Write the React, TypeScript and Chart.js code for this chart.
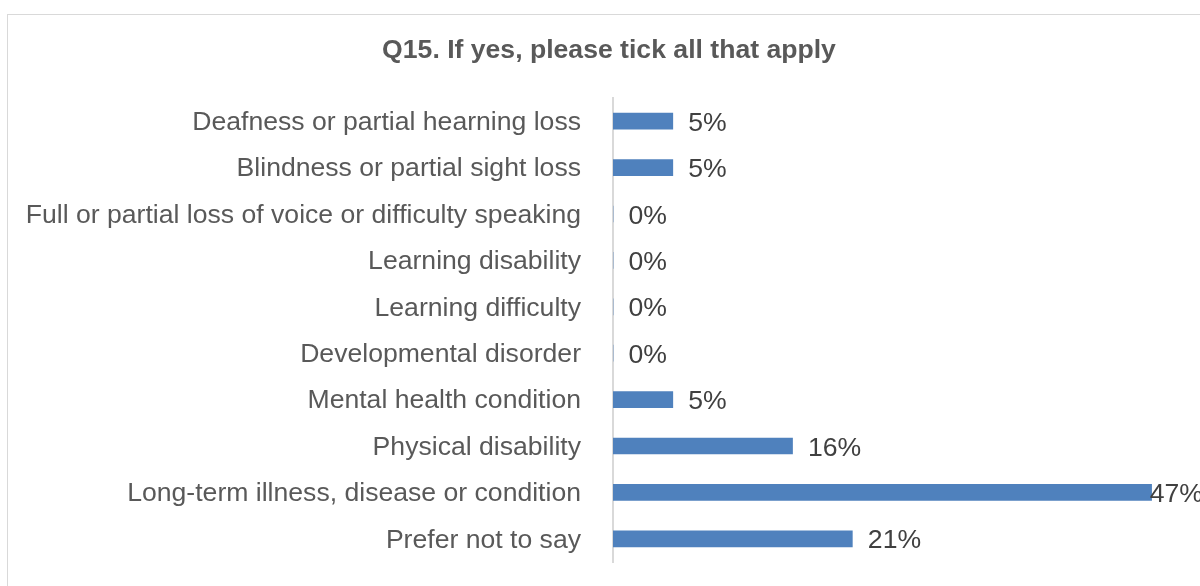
import React, { useEffect, useRef } from "react";
import { Chart, registerables } from "chart.js";

Chart.register(...registerables);

const chartTitle = "Q15. If yes, please tick all that apply";

const categories = [
  "Deafness or partial hearning loss",
  "Blindness or partial sight loss",
  "Full or partial loss of voice or difficulty speaking",
  "Learning disability",
  "Learning difficulty",
  "Developmental disorder",
  "Mental health condition",
  "Physical disability",
  "Long-term illness, disease or condition",
  "Prefer not to say",
];

const percentValues = [5.26, 5.26, 0, 0, 0, 0, 5.26, 15.79, 47.37, 21.05];

const valueLabels = ["5%", "5%", "0%", "0%", "0%", "0%", "5%", "16%", "47%", "21%"];

const axisMin = 0;
const axisMax = 50;

const FONT_FAMILY = '"Liberation Sans", Arial, sans-serif';
const FONT_SIZE = 26.6;

const decoPlugin = {
  id: "deco",
  beforeDraw(chart: any) {
    const ctx = chart.ctx;
    ctx.save();
    ctx.fillStyle = "#ffffff";
    ctx.fillRect(0, 0, chart.width, chart.height);
    ctx.strokeStyle = "#D9D9D9";
    ctx.lineWidth = 1;
    ctx.strokeRect(7.5, 14.5, 1210, 640);
    ctx.fillStyle = "#595959";
    ctx.font = `bold ${FONT_SIZE}px ${FONT_FAMILY}`;
    ctx.textAlign = "center";
    ctx.textBaseline = "alphabetic";
    ctx.fillText(chartTitle, 609, 58);
    ctx.restore();
  },
  afterDatasetsDraw(chart: any) {
    const ctx = chart.ctx;
    const meta = chart.getDatasetMeta(0);
    ctx.save();
    ctx.font = `${FONT_SIZE}px ${FONT_FAMILY}`;
    ctx.fillStyle = "#404040";
    ctx.textAlign = "left";
    ctx.textBaseline = "alphabetic";
    meta.data.forEach((bar: any, i: number) => {
      const txt = valueLabels[i];
      const w = ctx.measureText(txt).width;
      let x = bar.x + 15.5;
      const limit = chart.width - w + 3;
      if (x > limit) x = limit;
      ctx.fillText(txt, x, bar.y + 9.5);
    });
    ctx.restore();
  },
};

export default function App() {
  const canvasRef = useRef<HTMLCanvasElement | null>(null);

  useEffect(() => {
    if (!canvasRef.current) return;
    const chart = new Chart(canvasRef.current, {
      type: "bar",
      data: {
        labels: categories,
        datasets: [
          {
            data: percentValues,
            backgroundColor: "#4F81BD",
            borderWidth: 0,
            barThickness: 16,
          },
        ],
      },
      options: {
        indexAxis: "y",
        responsive: false,
        animation: false,
        devicePixelRatio: 1,
        layout: { padding: { left: 0, right: 18.5, top: 98, bottom: 24 } },
        plugins: {
          legend: { display: false },
          tooltip: { enabled: false },
          title: { display: false },
        },
        scales: {
          x: {
            display: false,
            min: axisMin,
            max: axisMax,
          },
          y: {
            grid: { display: false, drawTicks: false },
            border: { display: true, color: "#D9D9D9", width: 2 },
            ticks: {
              color: "#595959",
              padding: 32,
              labelOffset: 1.5,
              font: { family: FONT_FAMILY, size: FONT_SIZE },
              autoSkip: false,
            },
            afterFit(scale: any) {
              scale.width = 613;
              scale.paddingTop = 0;
              scale.paddingBottom = 0;
            },
          },
        },
      },
      plugins: [decoPlugin],
    } as any);
    return () => chart.destroy();
  }, []);

  return (
    <div style={{ position: "absolute", left: 0, top: 0, width: 1200, height: 586 }}>
      <canvas ref={canvasRef} width={1200} height={586} style={{ display: "block" }} />
    </div>
  );
}
